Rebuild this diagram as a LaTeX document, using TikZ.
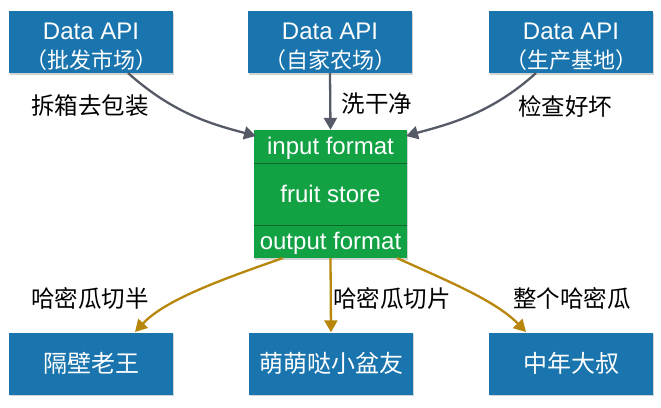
\documentclass[tikz,border=0pt]{standalone}
\usepackage{fontspec}
\setmainfont{Liberation Sans}
\newfontfamily\cjk{Noto Sans CJK SC}
\usetikzlibrary{arrows.meta,shadows}
\definecolor{boxblue}{HTML}{1A74AE}
\definecolor{boxgreen}{HTML}{12A244}
\definecolor{arrgray}{HTML}{555A66}
\definecolor{arrgold}{HTML}{B8860B}
\tikzset{
  bluebox/.style={fill=boxblue, text=white, minimum width=164pt, minimum height=62pt, inner sep=0pt, align=center, drop shadow={shadow xshift=1pt, shadow yshift=-1.5pt, opacity=0.35}},
  lowbox/.style={bluebox, font=\cjk\fontsize{24}{27}\selectfont},
  toptxt/.style={text=white, inner sep=0pt, font=\fontsize{24}{27}\selectfont},
  topcjk/.style={text=white, inner sep=0pt, font=\cjk\fontsize{22}{26}\selectfont},
  greenrow/.style={text=white, font=\fontsize{24}{27}\selectfont, inner sep=0pt},
  grayarr/.style={draw=arrgray, line width=2.3pt, -{Triangle[length=12pt,width=13pt]}},
  goldarr/.style={draw=arrgold, line width=2.3pt, -{Triangle[length=12pt,width=13pt]}},
  lbl/.style={font=\cjk\fontsize{23.5}{26}\selectfont, text=black}
}
\begin{document}
\begin{tikzpicture}[x=1pt,y=-1pt]
\useasboundingbox[fill=white] (0,0) rectangle (661,407);
% top boxes
\node[bluebox] (t1) at (91,42) {};
\node[bluebox] (t2) at (330,42) {};
\node[bluebox] (t3) at (571,42) {};
\node[toptxt] (t1a) at (91,31) {Data API};
\node[topcjk] (t1b) at (91,60) {（批发市场）};
\node[toptxt] (t2a) at (330,31) {Data API};
\node[topcjk] (t2b) at (330,60) {（自家农场）};
\node[toptxt] (t3a) at (571,31) {Data API};
\node[topcjk] (t3b) at (571,60) {（生产基地）};
% green store
\node[fill=boxgreen, minimum width=153pt, minimum height=128pt, inner sep=0pt, drop shadow={shadow xshift=1pt, shadow yshift=-1.5pt, opacity=0.35}] (g) at (330.5,194) {};
\draw[black!35!boxgreen, line width=1pt] (254,163.5) -- (407,163.5);
\draw[black!35!boxgreen, line width=1pt] (254,225) -- (407,225);
\node[greenrow] (gin) at (330.5,148) {input format};
\node[greenrow] (gmid) at (330.5,194) {fruit store};
\node[greenrow] (gout) at (330.5,243) {output format};
% bottom boxes
\node[lowbox] (b1) at (91,363.5) {隔壁老王};
\node[lowbox] (b2) at (331,363.5) {萌萌哒小盆友};
\node[lowbox] (b3) at (571,363.5) {中年大叔};
% coordinates
\coordinate (s1) at (128,73);
\coordinate (e1) at (256,136);
\coordinate (s3) at (536,73);
\coordinate (e3) at (406,136);
\coordinate (o1) at (283,258);
\coordinate (o3) at (397,258);
\coordinate (d1) at (135,332);
\coordinate (d3) at (526,332);
% arrows in
\draw[grayarr] (s1) .. controls (175,115) and (215,125) .. (e1);
\draw[grayarr] (t2.south) -- (g.north);
\draw[grayarr] (s3) .. controls (490,115) and (445,125) .. (e3);
% arrows out
\draw[goldarr] (o1) .. controls (220,280) and (165,300) .. (d1);
\draw[goldarr] (g.south) -- (b2.north);
\draw[goldarr] (o3) .. controls (445,280) and (495,300) .. (d3);
% labels
\node[lbl] (l1) at (90,106) {拆箱去包装};
\node[lbl] (l2) at (377,104) {洗干净};
\node[lbl] (l3) at (565,106) {检查好坏};
\node[lbl] (l4) at (90,298) {哈密瓜切半};
\node[lbl] (l5) at (392,298) {哈密瓜切片};
\node[lbl] (l6) at (572,298) {整个哈密瓜};
\end{tikzpicture}
\end{document}
